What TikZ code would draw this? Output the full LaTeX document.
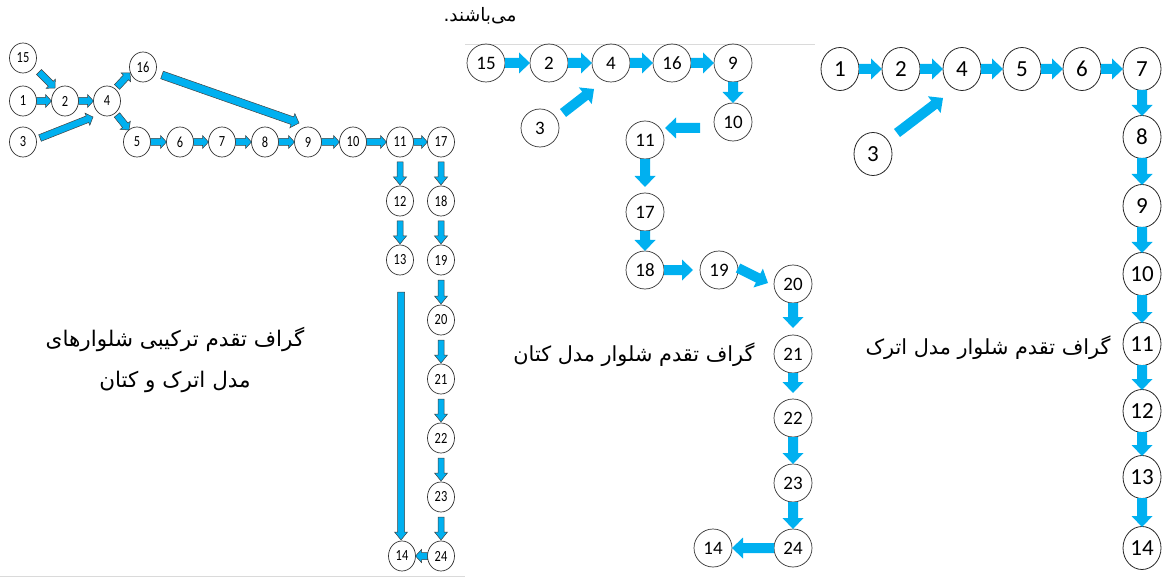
\documentclass[tikz,border=0pt]{standalone}
\usepackage{fontspec}
\setmainfont{Carlito}
\newfontfamily\numfont{Carlito}
\newfontfamily\narrowfont{Carlito}[FakeStretch=0.8]
\newfontfamily\arabicfont[Script=Arabic]{DejaVu Sans}
\TeXXeTstate=1
\usetikzlibrary{calc,shapes.geometric}
\definecolor{arrblue}{RGB}{0,176,240}
\definecolor{rulegray}{RGB}{218,218,218}
\tikzset{
 lnode/.style={ellipse, draw=black!80, line width=0.7pt, minimum width=27pt, minimum height=30pt, inner sep=0pt, font=\narrowfont\fontsize{15.5}{15.5}\selectfont},
 mnode/.style={circle, draw=black!80, line width=0.7pt, minimum size=38pt, inner sep=0pt, font=\numfont\fontsize{19}{19}\selectfont},
 rnode/.style={ellipse, draw=black!85, line width=0.8pt, minimum width=38pt, minimum height=43pt, inner sep=0pt, font=\numfont\fontsize{23}{23}\selectfont},
 larr/.style={fill=arrblue, draw=black!75, line width=0.5pt},
 barr/.style={fill=arrblue, draw=none},
 ptext/.style={font=\arabicfont\fontsize{20.8}{40}\selectfont, align=center, inner sep=0pt},
 ptextbig/.style={font=\arabicfont\fontsize{21.5}{41}\selectfont, align=center, inner sep=0pt},
}
% #1 style, #2 start, #3 end, #4 half shaft, #5 half head, #6 head length
\newcommand{\blockarrow}[6]{%
  \coordinate (ba1) at #2;
  \coordinate (ba2) at #3;
  \coordinate (bah) at ($(ba2)!#6!(ba1)$);
  \filldraw[#1] ($(ba1)!#4!90:(ba2)$) -- ($(bah)!#4!90:(ba2)$) -- ($(bah)!#5!90:(ba2)$) -- (ba2)
     -- ($(bah)!#5!-90:(ba2)$) -- ($(bah)!#4!-90:(ba2)$) -- ($(ba1)!#4!-90:(ba2)$) -- cycle;
}
\newcommand{\larrow}[2]{\blockarrow{larr}{#1}{#2}{3.5pt}{6.5pt}{6pt}}
\newcommand{\lvarrow}[2]{\blockarrow{larr}{#1}{#2}{3pt}{6.5pt}{8pt}}
\newcommand{\marrow}[2]{\blockarrow{barr}{#1}{#2}{5pt}{10.5pt}{11pt}}
\newcommand{\lconn}[4]{\larrow{($(#1)!#3!(#2)$)}{($(#2)!#4!(#1)$)}}
\newcommand{\lvconn}[4]{\lvarrow{($(#1)!#3!(#2)$)}{($(#2)!#4!(#1)$)}}
\newcommand{\mconn}[4]{\marrow{($(#1)!#3!(#2)$)}{($(#2)!#4!(#1)$)}}
\begin{document}
\begin{tikzpicture}[x=1pt,y=-1pt]
\useasboundingbox (0,0) rectangle (1166,577);
\draw[rulegray, line width=0.7pt] (465,44) -- (815,44);
\draw[rulegray, line width=0.7pt] (0,576) -- (465,576);

% ---------- left graph ----------
\node[lnode] (L15) at (23,58) {15};
\node[lnode] (L1) at (23,101) {1};
\node[lnode] (L2) at (65,101) {2};
\node[lnode] (L4) at (107,101) {4};
\node[lnode] (L3) at (23,142) {3};
\node[lnode] (L16) at (143,67) {16};
\node[lnode] (L5) at (137,142) {5};
\node[lnode] (L6) at (180,142) {6};
\node[lnode] (L7) at (222,142) {7};
\node[lnode] (L8) at (265,142) {8};
\node[lnode] (L9) at (308,142) {9};
\node[lnode] (L10) at (353,142) {10};
\node[lnode] (L11) at (400,142) {11};
\node[lnode] (L17) at (441,142) {17};
\node[lnode] (L12) at (400,201) {12};
\node[lnode] (L13) at (400,260) {13};
\node[lnode] (L18) at (441,201) {18};
\node[lnode] (L19) at (441,260) {19};
\node[lnode] (L20) at (441,320) {20};
\node[lnode] (L21) at (441,379) {21};
\node[lnode] (L22) at (441,438) {22};
\node[lnode] (L23) at (441,497) {23};
\node[lnode] (L24) at (441,556) {24};
\node[lnode] (L14) at (402,556) {14};

\lconn{L1}{L2}{13.5pt}{13.5pt}
\lconn{L2}{L4}{13.5pt}{13.5pt}
\larrow{($(L15)+(16,14)$)}{($(L2)+(-10,-13)$)}
\larrow{($(L3)+(17,-4)$)}{($(L4)+(-14,16)$)}
\larrow{($(L4)+(10,-14)$)}{($(L16)+(-13,6)$)}
\larrow{($(L4)+(10,14)$)}{($(L5)+(-8,-12)$)}
\blockarrow{larr}{($(L16)+(19,8)$)}{($(L9)+(-9,-19)$)}{4pt}{7.5pt}{7pt}
\lconn{L5}{L6}{13.5pt}{13.5pt}
\lconn{L6}{L7}{13.5pt}{13.5pt}
\lconn{L7}{L8}{13.5pt}{13.5pt}
\lconn{L8}{L9}{13.5pt}{13.5pt}
\lconn{L9}{L10}{13.5pt}{13.5pt}
\lconn{L10}{L11}{13.5pt}{13.5pt}
\lconn{L11}{L17}{13.5pt}{13.5pt}
\lvconn{L11}{L12}{20pt}{16pt}
\lvconn{L12}{L13}{20pt}{16pt}
\lvconn{L17}{L18}{20pt}{16pt}
\lvconn{L18}{L19}{20pt}{16pt}
\lvconn{L19}{L20}{20pt}{16pt}
\lvconn{L20}{L21}{20pt}{16pt}
\lvconn{L21}{L22}{20pt}{16pt}
\lvconn{L22}{L23}{20pt}{16pt}
\lvconn{L23}{L24}{20pt}{16pt}
\blockarrow{larr}{($(L13)+(1,32)$)}{($(L14)+(-1,-16)$)}{3.5pt}{6.5pt}{8pt}
\lconn{L24}{L14}{13.5pt}{13.5pt}

\node[ptextbig] (tl) at (175,360) {\beginR گراف تقدم ترکیبی شلوارهای\endR\\\beginR مدل اترک و کتان\endR};

% ---------- middle graph ----------
\node[mnode] (M15) at (486,63) {15};
\node[mnode] (M2) at (549,63) {2};
\node[mnode] (M4) at (611,63) {4};
\node[mnode] (M16) at (672,63) {16};
\node[mnode] (M9) at (733,63) {9};
\node[mnode] (M3) at (540,128) {3};
\node[mnode] (M10) at (733,122) {10};
\node[mnode] (M11) at (645,140) {11};
\node[mnode] (M17) at (645,212) {17};
\node[mnode] (M18) at (645,270) {18};
\node[mnode] (M19) at (719,270) {19};
\node[mnode] (M20) at (793,284) {20};
\node[mnode] (M21) at (793,354) {21};
\node[mnode] (M22) at (793,418) {22};
\node[mnode] (M23) at (793,483) {23};
\node[mnode] (M24) at (793,548) {24};
\node[mnode] (M14) at (713,548) {14};

\mconn{M15}{M2}{19pt}{19pt}
\mconn{M2}{M4}{19pt}{19pt}
\mconn{M4}{M16}{19pt}{19pt}
\mconn{M16}{M9}{19pt}{19pt}
\mconn{M9}{M10}{19pt}{19pt}
\marrow{($(M3)+(23,-15)$)}{($(M4)+(-17,26)$)}
\marrow{($(M10)+(-33,6)$)}{($(M11)+(20,-12)$)}
\mconn{M11}{M17}{19pt}{25pt}
\mconn{M17}{M18}{19pt}{19pt}
\mconn{M18}{M19}{19pt}{26pt}
\marrow{($(M19)+(19,-2)$)}{($(M20)+(-25,-1)$)}
\mconn{M20}{M21}{19pt}{26pt}
\mconn{M21}{M22}{19pt}{25pt}
\mconn{M22}{M23}{19pt}{19pt}
\mconn{M23}{M24}{19pt}{19pt}
\mconn{M24}{M14}{19pt}{19pt}

\node[ptext] (tm) at (634,355) {\beginR گراف تقدم شلوار مدل کتان\endR};
\node[ptext, font=\arabicfont\fontsize{18.5}{30}\selectfont] (tt) at (480,16) {\beginR می‌باشند.\endR};

% ---------- right graph ----------
\node[rnode] (R1) at (840,69) {1};
\node[rnode] (R2) at (901,69) {2};
\node[rnode] (R4) at (962,69) {4};
\node[rnode] (R5) at (1022,69) {5};
\node[rnode] (R6) at (1082,69) {6};
\node[rnode] (R7) at (1142,69) {7};
\node[rnode] (R3) at (873,154) {3};
\node[rnode] (R8) at (1142,137) {8};
\node[rnode] (R9) at (1142,206) {9};
\node[rnode] (R10) at (1142,274) {10};
\node[rnode] (R11) at (1142,344) {11};
\node[rnode] (R12) at (1142,411) {12};
\node[rnode] (R13) at (1142,477) {13};
\node[rnode] (R14) at (1142,548) {14};

\mconn{R1}{R2}{19pt}{19pt}
\mconn{R2}{R4}{19pt}{19pt}
\mconn{R4}{R5}{19pt}{19pt}
\mconn{R5}{R6}{19pt}{19pt}
\mconn{R6}{R7}{19pt}{19pt}
\marrow{($(R3)+(24,-21)$)}{($(R4)+(-19,29)$)}
\mconn{R7}{R8}{21pt}{21pt}
\mconn{R8}{R9}{21pt}{21pt}
\mconn{R9}{R10}{21pt}{21pt}
\mconn{R10}{R11}{21pt}{21pt}
\mconn{R11}{R12}{21pt}{21pt}
\mconn{R12}{R13}{21pt}{21pt}
\mconn{R13}{R14}{21pt}{21pt}

\node[ptext] (tr) at (988,348) {\beginR گراف تقدم شلوار مدل اترک\endR};
\end{tikzpicture}
\end{document}
